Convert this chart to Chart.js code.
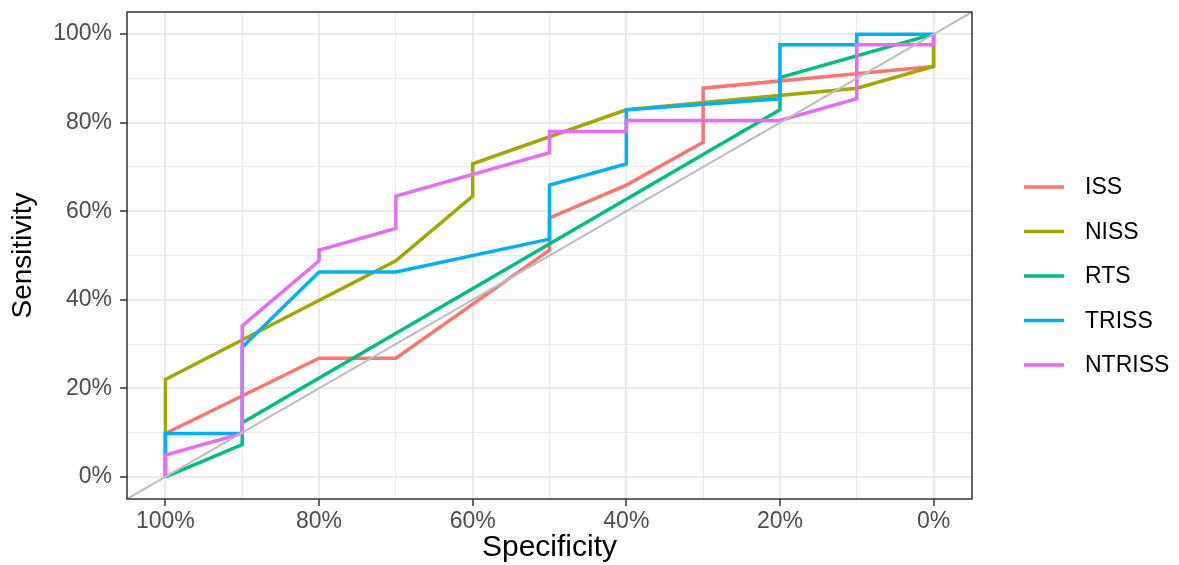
<!DOCTYPE html>
<html>
<head>
<meta charset="utf-8">
<script src="https://cdn.jsdelivr.net/npm/chart.js@4.4.1/dist/chart.umd.min.js"></script>
<style>
  html, body { margin: 0; padding: 0; background: #fff; }
  canvas { display: block; }
</style>
</head>
<body>
<canvas id="roc" width="1179" height="565"></canvas>
<script>
// ROC curves, specificity runs from 100% down to 0%
const seriesNames = ['ISS', 'NISS', 'RTS', 'TRISS', 'NTRISS'];

const issSpec = [1, 1, 0.8, 0.7, 0.5, 0.5, 0.4, 0.3, 0.3, 0, 0];
const issSens = [0, 0.098, 0.268, 0.268, 0.512, 0.585, 0.659, 0.756, 0.878, 0.927, 1];

const nissSpec = [1, 1, 0.7, 0.6, 0.6, 0.4, 0.1, 0, 0];
const nissSens = [0, 0.22, 0.488, 0.634, 0.707, 0.829, 0.878, 0.927, 1];

const rtsSpec = [1, 0.9, 0.9, 0.2, 0.2, 0];
const rtsSens = [0, 0.073, 0.122, 0.829, 0.902, 1];

const trissSpec = [1, 1, 0.9, 0.9, 0.8, 0.7, 0.5, 0.5, 0.4, 0.4, 0.2, 0.2, 0.1, 0.1, 0];
const trissSens = [0, 0.098, 0.098, 0.293, 0.463, 0.463, 0.537, 0.659, 0.707, 0.829, 0.854, 0.976, 0.976, 1, 1];

const ntrissSpec = [1, 1, 0.9, 0.9, 0.8, 0.8, 0.7, 0.7, 0.5, 0.5, 0.4, 0.4, 0.2, 0.1, 0.1, 0, 0];
const ntrissSens = [0, 0.049, 0.098, 0.341, 0.488, 0.512, 0.561, 0.634, 0.732, 0.780, 0.780, 0.805, 0.805, 0.854, 0.976, 0.976, 1];

// chance line, runs corner to corner of the panel
const refSpec = [1.05, -0.05];
const refSens = [-0.05, 1.05];

const gridTicks = [0, 0.1, 0.2, 0.3, 0.4, 0.5, 0.6, 0.7, 0.8, 0.9, 1];

const palette = ['#F8766D', '#A3A500', '#00BF7D', '#00B0F6', '#E76BF3'];
const FONT = "'Liberation Sans', Arial, sans-serif";

Chart.defaults.font.family = FONT;

function toPoints(xs, ys) {
    return xs.map((x, i) => ({ x: x, y: ys[i] }));
}

function isMajor(v) {
    return Math.round(v * 10) % 2 === 0;
}

function pct(v) {
    return isMajor(v) ? Math.round(v * 100) + '%' : '';
}

const allSpec = [issSpec, nissSpec, rtsSpec, trissSpec, ntrissSpec];
const allSens = [issSens, nissSens, rtsSens, trissSens, ntrissSens];

let datasets = seriesNames.map((name, i) => ({
    label: name,
    data: toPoints(allSpec[i], allSens[i]),
    borderColor: palette[i],
    borderWidth: 3.5,
    pointRadius: 0,
    tension: 0,
    fill: false,
    order: seriesNames.length - i + 1
}));

datasets.push({
    label: 'reference',
    data: toPoints(refSpec, refSens),
    borderColor: '#BEBEBE',
    borderWidth: 2,
    pointRadius: 0,
    fill: false,
    order: 0
});

const panelBorder = {
    id: 'panelBorder',
    afterDraw(chart) {
        const { ctx, chartArea: a } = chart;
        ctx.save();
        ctx.strokeStyle = '#333333';
        ctx.lineWidth = 1.5;
        ctx.strokeRect(a.left, a.top, a.right - a.left, a.bottom - a.top);
        ctx.restore();
    }
};

const sideLegend = {
    id: 'sideLegend',
    afterDraw(chart) {
        const ctx = chart.ctx;
        const rowGap = 44.5;
        const firstRow = 187;
        ctx.save();
        ctx.font = '23px ' + FONT;
        ctx.textBaseline = 'middle';
        ctx.textAlign = 'left';
        seriesNames.forEach((name, i) => {
            let y = firstRow + i * rowGap;
            ctx.strokeStyle = palette[i];
            ctx.lineWidth = 3.5;
            ctx.beginPath();
            ctx.moveTo(1024, y);
            ctx.lineTo(1064, y);
            ctx.stroke();
            ctx.fillStyle = '#000000';
            ctx.fillText(name, 1085, y + 1);
        });
        ctx.restore();
    }
};

function gridOpts() {
    return {
        color: '#EBEBEB',
        lineWidth: c => (c.tick && isMajor(c.tick.value)) ? 2 : 1,
        drawTicks: true,
        tickLength: 7,
        tickWidth: 1.5,
        tickColor: c => (c.tick && isMajor(c.tick.value)) ? '#333333' : 'rgba(0,0,0,0)'
    };
}

new Chart(document.getElementById('roc'), {
    type: 'line',
    data: { datasets: datasets },
    plugins: [panelBorder, sideLegend],
    options: {
        responsive: false,
        animation: false,
        layout: { padding: { left: 0, top: 12, right: 207, bottom: 0 } },
        plugins: {
            legend: { display: false },
            tooltip: { enabled: false }
        },
        scales: {
            x: {
                type: 'linear',
                reverse: true,
                min: -0.05,
                max: 1.05,
                afterBuildTicks: s => { s.ticks = gridTicks.map(v => ({ value: v })); },
                afterFit: s => {
                    s.height = 66;
                    s.paddingLeft = 0;
                    s.paddingRight = 0;
                },
                grid: gridOpts(),
                border: { display: false },
                ticks: {
                    autoSkip: false,
                    maxRotation: 0,
                    padding: 2,
                    color: '#4D4D4D',
                    font: { size: 23 },
                    callback: v => pct(v)
                },
                title: {
                    display: true,
                    text: 'Specificity',
                    color: '#000000',
                    font: { size: 30, lineHeight: 1 },
                    padding: { top: 0, bottom: 2 }
                }
            },
            y: {
                type: 'linear',
                min: -0.05,
                max: 1.05,
                afterBuildTicks: s => { s.ticks = gridTicks.map(v => ({ value: v })); },
                afterFit: s => {
                    s.width = 127;
                    s.paddingTop = 0;
                    s.paddingBottom = 0;
                },
                grid: gridOpts(),
                border: { display: false },
                ticks: {
                    autoSkip: false,
                    padding: 8,
                    color: '#4D4D4D',
                    font: { size: 23 },
                    callback: v => pct(v)
                },
                title: {
                    display: true,
                    text: 'Sensitivity',
                    color: '#000000',
                    font: { size: 28, lineHeight: 1 },
                    padding: { top: 9, bottom: 0 }
                }
            }
        }
    }
});
</script>
</body>
</html>
